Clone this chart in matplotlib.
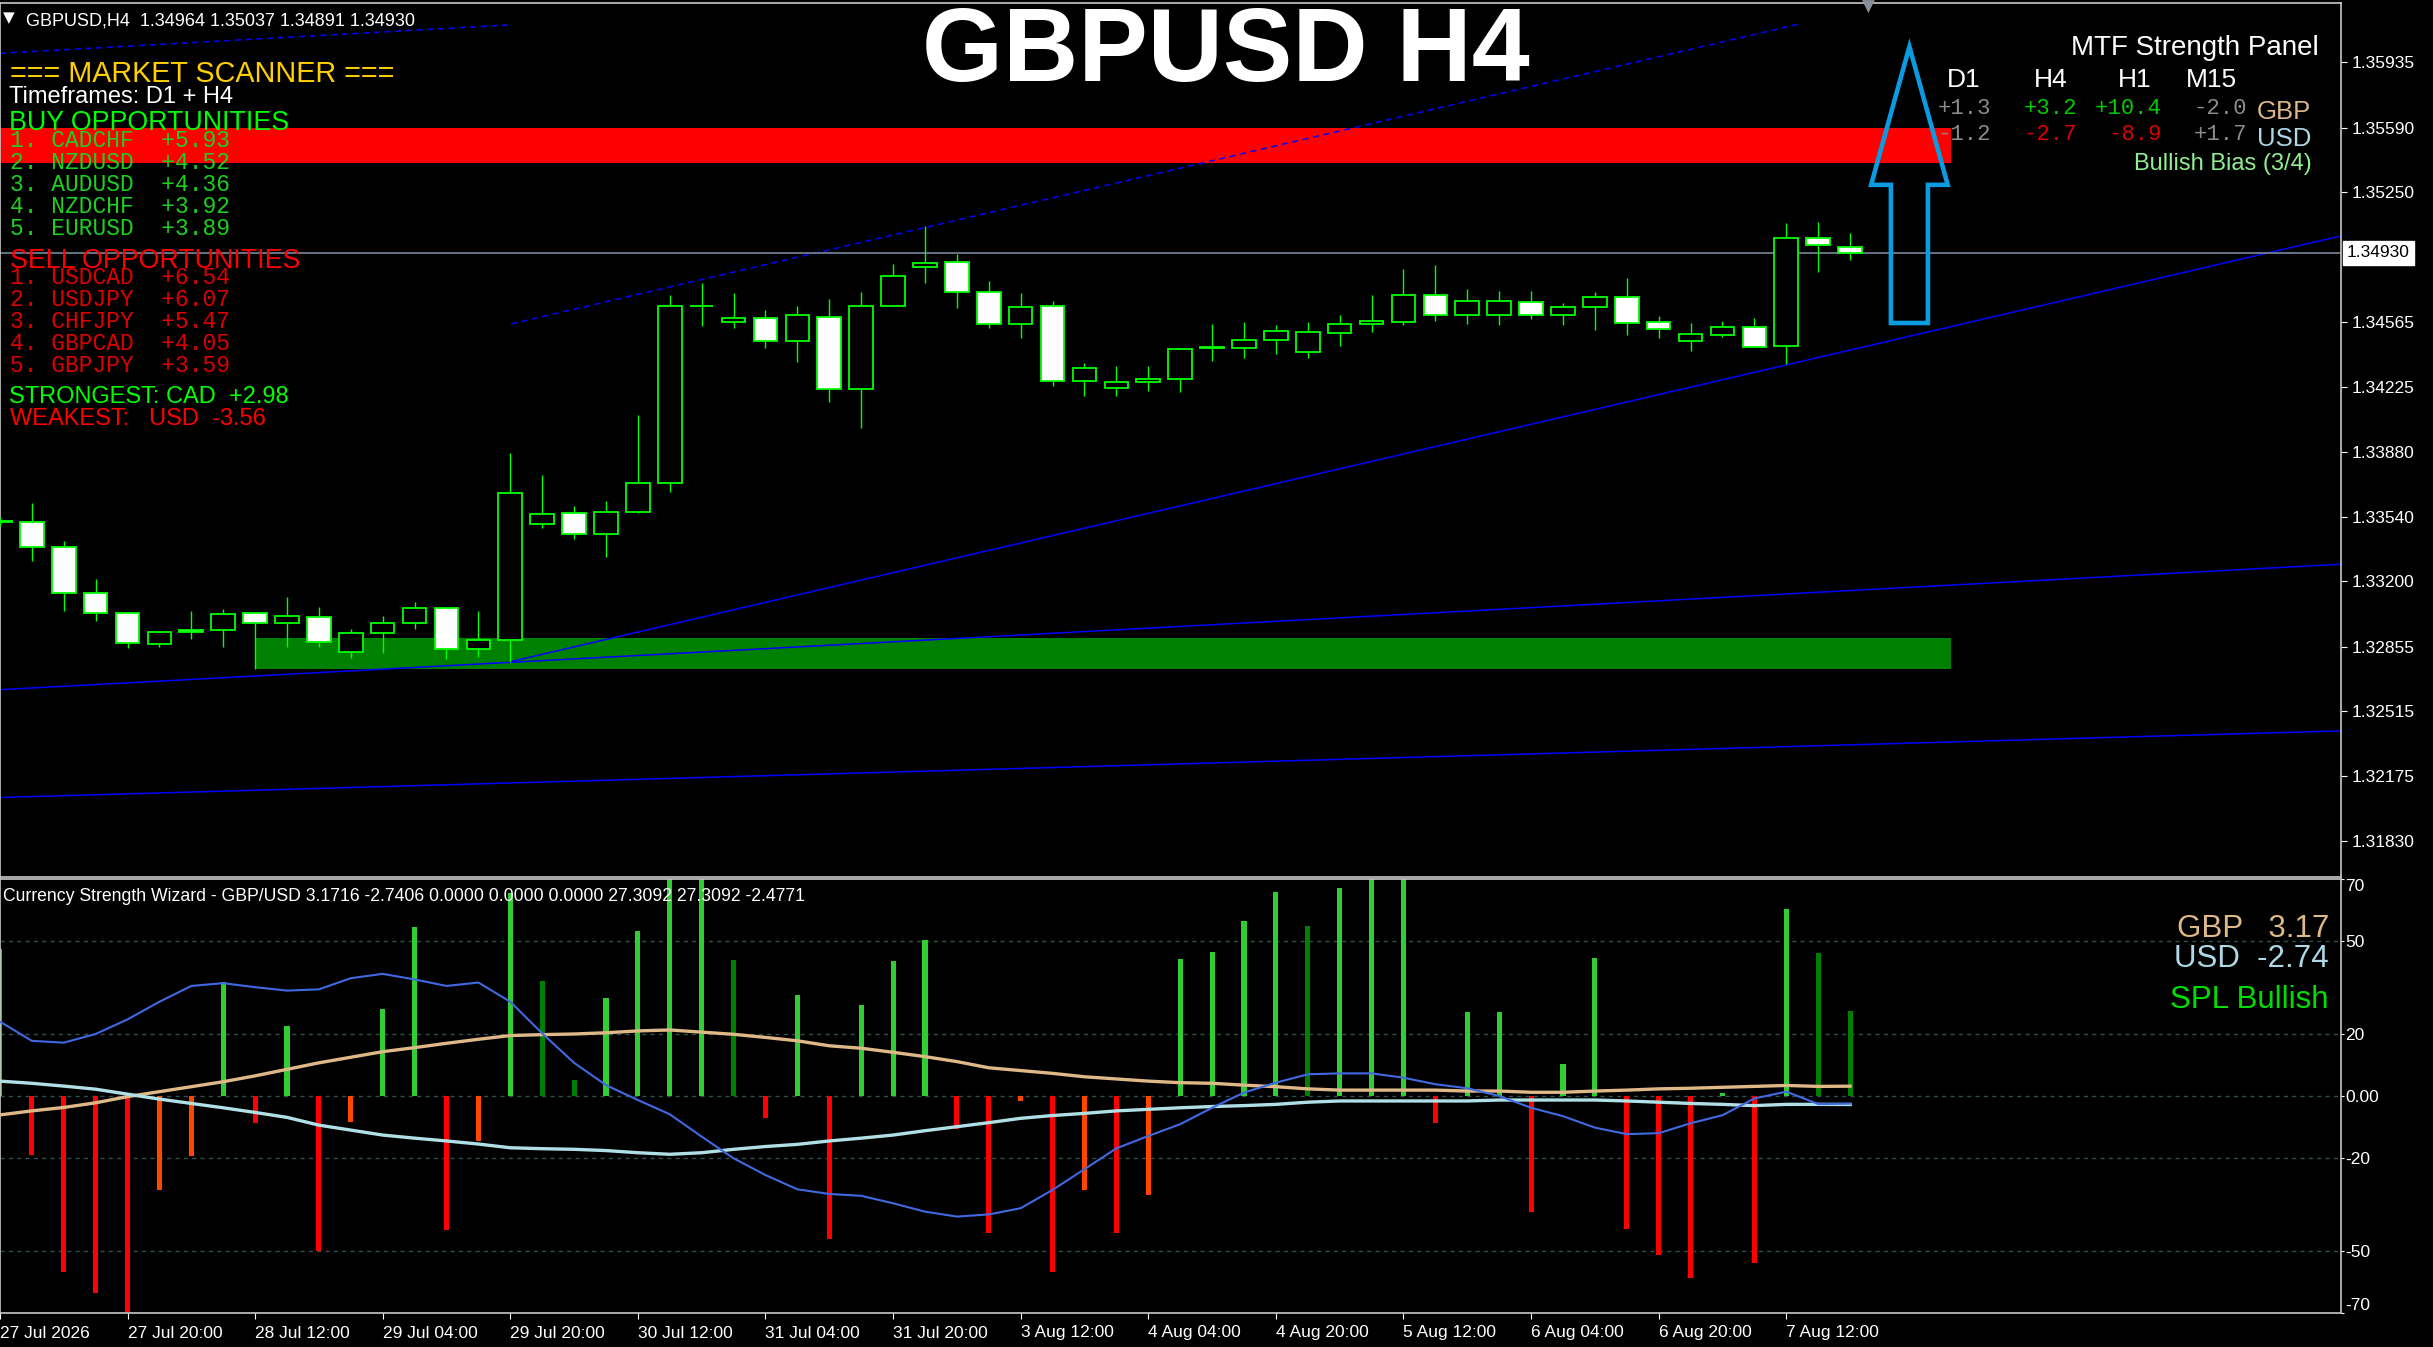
import numpy as np
import matplotlib
matplotlib.use('Agg')
import matplotlib.pyplot as plt
from matplotlib.patches import Rectangle, Polygon
from matplotlib import transforms

# ---------- figure size in pixels ----------
W, H = 2433, 1347

# ---------- GBPUSD H4 candles (bar index 1 = 27 Jul 04:00) ----------
bar_idx = np.arange(1, 60)
opens = [1.33516, 1.33511, 1.33380, 1.33137, 1.33032, 1.32870, 1.32944, 1.32944, 1.33032, 1.32979,
         1.33014, 1.32826, 1.32926, 1.32979, 1.33058, 1.32844, 1.32891, 1.33501, 1.33559, 1.33448,
         1.33564, 1.33717, 1.34650, 1.34565, 1.34586, 1.34467, 1.34595, 1.34212, 1.34649, 1.34855,
         1.34881, 1.34723, 1.34555, 1.34649, 1.34257, 1.34217, 1.34249, 1.34265, 1.34431, 1.34431,
         1.34470, 1.34410, 1.34510, 1.34555, 1.34568, 1.34707, 1.34605, 1.34605, 1.34670, 1.34605,
         1.34647, 1.34697, 1.34565, 1.34468, 1.34500, 1.34539, 1.34439, 1.35008, 1.34964]
highs = [1.33540, 1.33611, 1.33413, 1.33213, 1.33040, 1.32940, 1.33046, 1.33054, 1.33032, 1.33116,
         1.33063, 1.32949, 1.33018, 1.33093, 1.33058, 1.33046, 1.33878, 1.33760, 1.33597, 1.33624,
         1.34077, 1.34709, 1.34771, 1.34721, 1.34630, 1.34651, 1.34686, 1.34726, 1.34872, 1.35070,
         1.34925, 1.34783, 1.34719, 1.34677, 1.34351, 1.34335, 1.34335, 1.34431, 1.34556, 1.34567,
         1.34549, 1.34567, 1.34604, 1.34709, 1.34846, 1.34867, 1.34741, 1.34730, 1.34730, 1.34667,
         1.34725, 1.34798, 1.34598, 1.34561, 1.34572, 1.34588, 1.35088, 1.35094, 1.35037]
lows = [1.33490, 1.33309, 1.33046, 1.32993, 1.32847, 1.32856, 1.32896, 1.32856, 1.32737, 1.32856,
        1.32856, 1.32795, 1.32821, 1.32949, 1.32789, 1.32800, 1.32777, 1.33483, 1.33422, 1.33330,
        1.33559, 1.33673, 1.34547, 1.34537, 1.34428, 1.34357, 1.34147, 1.34007, 1.34649, 1.34774,
        1.34642, 1.34537, 1.34484, 1.34231, 1.34178, 1.34178, 1.34205, 1.34199, 1.34361, 1.34379,
        1.34398, 1.34379, 1.34442, 1.34516, 1.34553, 1.34574, 1.34558, 1.34553, 1.34584, 1.34553,
        1.34526, 1.34500, 1.34484, 1.34415, 1.34489, 1.34433, 1.34347, 1.34832, 1.34891]
closes = [1.33512, 1.33380, 1.33137, 1.33032, 1.32874, 1.32932, 1.32932, 1.33026, 1.32979, 1.33018,
          1.32879, 1.32926, 1.32979, 1.33058, 1.32844, 1.32891, 1.33664, 1.33553, 1.33448, 1.33564,
          1.33717, 1.34649, 1.34648, 1.34586, 1.34467, 1.34602, 1.34212, 1.34649, 1.34809, 1.34879,
          1.34723, 1.34555, 1.34644, 1.34257, 1.34323, 1.34249, 1.34265, 1.34423, 1.34432, 1.34470,
          1.34518, 1.34512, 1.34555, 1.34570, 1.34707, 1.34605, 1.34676, 1.34676, 1.34605, 1.34644,
          1.34697, 1.34563, 1.34531, 1.34502, 1.34539, 1.34433, 1.35008, 1.34971, 1.34930]
last_price = 1.34930

# ---------- axis ticks ----------
price_ticks = [1.35935, 1.35590, 1.35250, 1.34565, 1.34225, 1.33880, 1.33540,
               1.33200, 1.32855, 1.32515, 1.32175, 1.31830]
time_pos = [1.003] + list(range(5, 58, 4))
time_labels = ['27 Jul 2026', '27 Jul 20:00', '28 Jul 12:00', '29 Jul 04:00', '29 Jul 20:00',
               '30 Jul 12:00', '31 Jul 04:00', '31 Jul 20:00', '3 Aug 12:00', '4 Aug 04:00',
               '4 Aug 20:00', '5 Aug 12:00', '6 Aug 04:00', '6 Aug 20:00', '7 Aug 12:00']
ind_ticks = [70, 50, 20, 0, -20, -50, -70]
ind_tick_labels = ['70', '50', '20', '0.00', '-20', '-50', '-70']

# ---------- zones, trend lines, arrow ----------
red_zone = (1.35403, 1.35587)
green_zone = (1.32737, 1.32903)
zone_start_red, zone_start_green, zone_end = -5, 9, 62.16
trend_lines = [  # (x0, p0, x1, p1, dashed)
    (1.003, 1.35982, 17.02, 1.36132, True),
    (17.02, 1.34556, 57.4, 1.36136, True),
    (17.02, 1.32777, 74.39, 1.35020, False),
    (1.003, 1.32629, 74.39, 1.33290, False),
    (1.003, 1.32061, 74.39, 1.32412, False),
]
arrow_x, arrow_top, arrow_neck, arrow_base = 60.86, 1.36017, 1.35289, 1.34561
arrow_head_half, arrow_shaft_half = 1.2, 0.58

# ---------- Currency Strength Wizard ----------
hist_vals = [47.4, -19.0, -56.7, -63.4, -69.6, -30.3, -19.4, 36.8, -8.6, 22.6,
             -50.0, -8.3, 28.1, 54.5, -43.2, -14.5, 65.5, 37.1, 5.2, 31.7,
             53.2, 74.0, 74.0, 43.9, -7.0, 32.6, -46.1, 29.4, 43.5, 50.3,
             -10.7, -44.1, -1.5, -56.7, -30.3, -44.3, -31.9, 44.2, 46.5, 56.5,
             65.8, 54.8, 67.1, 74.0, 74.0, -8.6, 27.1, 27.1, -37.3, 10.3,
             44.5, -42.8, -51.3, -58.6, 0.9, -54.0, 60.3, 46.1, 27.31]
# G lime, g dark green, R red, O orange-red
hist_kind = 'GRRRROOGRGROGGROGggGGGGgRGRGGGRRORORO' + 'GGGGgGGGRGGRGGRRRGRGgg'
spl_line = [24.0, 17.8, 17.2, 20.0, 24.7, 30.4, 35.5, 36.4, 35.1, 34.0, 34.4, 38.0, 39.4, 37.6, 35.5,
            36.6, 30.4, 20.2, 10.7, 3.5, -1.3, -5.9, -13.1, -20.1, -25.5, -30.1, -31.6, -32.2, -34.6,
            -37.3, -38.9, -38.2, -36.2, -30.3, -23.6, -16.9, -12.9, -9.1, -3.8, 1.1, 4.3, 7.0, 7.3,
            7.3, 5.9, 3.8, 2.5, 0.0, -3.8, -6.5, -10.2, -12.3, -12.0, -8.8, -6.2, -0.8, 1.4, -2.6, -2.48]
gbp_line = [-6.1, -4.8, -3.7, -2.2, -0.2, 1.4, 3.0, 4.6, 6.5, 8.6, 10.7, 12.5, 14.3, 15.6, 17.0,
            18.3, 19.5, 19.8, 20.0, 20.4, 21.0, 21.3, 20.6, 19.9, 18.9, 17.8, 16.2, 15.4, 14.1, 12.7,
            11.1, 9.1, 8.2, 7.3, 6.2, 5.5, 4.8, 4.3, 4.1, 3.5, 3.0, 2.3, 1.9, 1.9, 1.9, 1.9, 1.6, 1.6,
            1.2, 1.2, 1.6, 1.9, 2.3, 2.5, 2.8, 3.1, 3.4, 3.1, 3.17]
usd_line = [4.8, 4.1, 3.2, 2.2, 0.6, -1.0, -2.4, -3.8, -5.3, -6.9, -9.4, -11.0, -12.6, -13.6, -14.5,
            -15.5, -16.7, -17.0, -17.2, -17.6, -18.3, -18.8, -18.3, -17.2, -16.3, -15.6, -14.5, -13.6,
            -12.6, -11.2, -9.9, -8.6, -7.2, -6.3, -5.6, -4.8, -4.3, -3.8, -3.4, -3.1, -2.7, -2.0, -1.6,
            -1.6, -1.6, -1.6, -1.6, -1.3, -1.3, -1.3, -1.3, -1.6, -2.0, -2.4, -2.7, -3.1, -2.7, -2.7, -2.74]
csw_values = [3.1716, -2.7406, 0.0, 0.0, 0.0, 27.3092, 27.3092, -2.4771]
gbp_now, usd_now = 3.17, -2.74

# ---------- scanner + MTF panel text ----------
buy_pairs = ['CADCHF', 'NZDUSD', 'AUDUSD', 'NZDCHF', 'EURUSD']
buy_scores = [5.93, 4.52, 4.36, 3.92, 3.89]
sell_pairs = ['USDCAD', 'USDJPY', 'CHFJPY', 'GBPCAD', 'GBPJPY']
sell_scores = [6.54, 6.07, 5.47, 4.05, 3.59]
strongest, strongest_val = 'CAD', 2.98
weakest, weakest_val = 'USD', -3.56
mtf_frames = ['D1', 'H4', 'H1', 'M15']
gbp_mtf = [1.3, 3.2, 10.4, -2.0]
usd_mtf = [-1.2, -2.7, -8.9, 1.7]

plt.rcParams['font.family'] = ['Liberation Sans', 'DejaVu Sans']
MONO = ['Liberation Mono', 'DejaVu Sans Mono']
FRAME = '#C8C8C8'

fig = plt.figure(figsize=(W / 100, H / 100), dpi=100, facecolor='black')
ax = fig.add_axes([0, 1 - 877 / H, 2341 / W, (877 - 3) / H], facecolor='black')
ax2 = fig.add_axes([0, 1 - 1313 / H, 2341 / W, (1313 - 879) / H], facecolor='black', sharex=ax)


def put(x, y, s, **kw):
    # place text by pixel position, y = baseline
    fig.text(x / W, 1 - y / H, s, va='baseline', **kw)


# ---------- main pane ----------
ax.add_patch(Rectangle((zone_start_red, red_zone[0]), zone_end - zone_start_red,
                       red_zone[1] - red_zone[0], color='#FF0000', lw=0, zorder=1))
ax.add_patch(Rectangle((zone_start_green, green_zone[0]), zone_end - zone_start_green,
                       green_zone[1] - green_zone[0], color='#008000', lw=0, zorder=1))

for x0, p0, x1, p1, dashed in trend_lines:
    ax.plot([x0, x1], [p0, p1], color='#0000FF', lw=1.1,
            ls=(0, (4, 3)) if dashed else '-', zorder=2)

ax.axhline(last_price, color='#778899', lw=1.2, zorder=2)

o = np.array(opens); c = np.array(closes)
ax.vlines(bar_idx, lows, highs, color='#00FF00', lw=1.0, zorder=3)
bull = c >= o
ax.bar(bar_idx, np.abs(c - o), bottom=np.minimum(o, c), width=0.74,
       color=np.where(bull, 'black', 'white'), edgecolor='#00FF00', linewidth=1.3, zorder=4)

arrow = [(arrow_x, arrow_top),
         (arrow_x + arrow_head_half, arrow_neck), (arrow_x + arrow_shaft_half, arrow_neck),
         (arrow_x + arrow_shaft_half, arrow_base), (arrow_x - arrow_shaft_half, arrow_base),
         (arrow_x - arrow_shaft_half, arrow_neck), (arrow_x - arrow_head_half, arrow_neck)]
ax.add_patch(Polygon(arrow, closed=True, fill=False, edgecolor='#0A9BE0', lw=3.3,
                     joinstyle='miter', zorder=6))

ax.set_xlim(1.003, 74.39)
ax.set_ylim(1.31642, 1.36247)
ax.yaxis.tick_right()
ax.set_yticks(price_ticks)
ax.set_yticklabels([f'{p:.5f}' for p in price_ticks])
ax.tick_params(axis='y', colors='white', labelcolor='white', length=4, pad=4, labelsize=12.5)
ax.tick_params(axis='x', bottom=False, labelbottom=False)
for s in ax.spines.values():
    s.set_color(FRAME)
    s.set_linewidth(1.2)

blend = transforms.blended_transform_factory(ax.transAxes, ax.transData)
ax.text(2347 / 2341, last_price, '1.34930', transform=blend, va='center', ha='left',
        fontsize=12.5, color='black', clip_on=False, zorder=10,
        bbox=dict(facecolor='white', edgecolor='white', pad=3))

# ---------- indicator pane ----------
kind_color = {'G': '#32CD32', 'g': '#008000', 'R': '#FF0000', 'O': '#FF4500'}
for lvl in [50, 20, 0, -20, -50]:
    ax2.axhline(lvl, color='#2F4F4F', lw=1, ls=(0, (3, 3)), zorder=1)
ax2.bar(bar_idx, hist_vals, width=0.16, color=[kind_color[k] for k in hist_kind], zorder=2)
ax2.plot(bar_idx, gbp_line, color='#DEB887', lw=2.4, zorder=3)
ax2.plot(bar_idx, usd_line, color='#B0E0E6', lw=2.4, zorder=3)
ax2.plot(bar_idx, spl_line, color='#4169E1', lw=1.5, zorder=4)

ax2.set_ylim(-70, 70)
ax2.yaxis.tick_right()
ax2.set_yticks(ind_ticks)
ax2.set_yticklabels(ind_tick_labels)
ax2.tick_params(axis='y', colors='white', length=2, pad=1, labelsize=12.5)
ylabels = ax2.get_yticklabels()
ylabels[0].set_va('top')
ylabels[-1].set_va('bottom')
ax2.set_xticks(time_pos)
ax2.set_xticklabels(time_labels)
ax2.tick_params(axis='x', colors='white', length=4, pad=5, labelsize=12.5)
for lbl in ax2.get_xticklabels():
    lbl.set_horizontalalignment('left')
for s in ax2.spines.values():
    s.set_color(FRAME)
    s.set_linewidth(1.2)

# ---------- texts ----------
put(1226, 81, 'GBPUSD H4', ha='center', color='white', fontsize=75, fontweight='bold')
put(3, 22, '\u25BC', color='white', fontsize=11, family=['DejaVu Sans'])
put(26, 25, 'GBPUSD,H4  ' + ' '.join(f'{v:.5f}' for v in [opens[-1], highs[-1], lows[-1], closes[-1]]),
    color='white', fontsize=13)
put(1862, 12, '\u25BC', color='#8A8F99', fontsize=12, family=['DejaVu Sans'])

put(10, 81.7, '=== MARKET SCANNER ===', color='#FFD000', fontsize=20.7)
put(9, 103, 'Timeframes: D1 + H4', color='white', fontsize=17)
put(9, 130, 'BUY OPPORTUNITIES', color='#00FF00', fontsize=19.3)
for k, (pair, sc) in enumerate(zip(buy_pairs, buy_scores)):
    put(10, 146.7 + 22 * k, f'{k + 1}. {pair}  {sc:+.2f}', color='#1ED01E', fontsize=16.5, family=MONO)
put(10, 268.3, 'SELL OPPORTUNITIES', color='#FF0000', fontsize=19.3)
for k, (pair, sc) in enumerate(zip(sell_pairs, sell_scores)):
    put(10, 284 + 22 * k, f'{k + 1}. {pair}  {sc:+.2f}', color='#DD0000', fontsize=16.5, family=MONO)
put(9, 403.3, f'STRONGEST: {strongest}  {strongest_val:+.2f}', color='#00FF00', fontsize=17)
put(10, 425, f'WEAKEST:   {weakest}  {weakest_val:+.2f}', color='#FF0000', fontsize=17)

# MTF panel
put(2319, 55, 'MTF Strength Panel', ha='right', color='white', fontsize=20)
col_center = [1964, 2051, 2135, 2211]
col_right = [1991, 2077, 2161.5, 2247]
for cx, tf in zip(col_center, mtf_frames):
    put(cx, 87.3, tf, ha='center', color='white', fontsize=19)


def mtf_color(v):
    if v > 2.5:
        return '#00CC00'
    if v < -2.5:
        return '#DD0000'
    return '#8C8C8C'


for rx, g, u in zip(col_right, gbp_mtf, usd_mtf):
    put(rx, 114.3, f'{g:+.1f}', ha='right', color=mtf_color(g), fontsize=16, family=MONO)
    put(rx, 140, f'{u:+.1f}', ha='right', color=mtf_color(u), fontsize=16, family=MONO)
put(2257, 119, 'GBP', color='#DEB887', fontsize=18.5)
put(2257, 145.7, 'USD', color='#ADD8E6', fontsize=18.5)
put(2312, 170, 'Bullish Bias (3/4)', ha='right', color='#90EE90', fontsize=17)

# indicator texts
put(3, 900.7, 'Currency Strength Wizard - GBP/USD ' + ' '.join(f'{v:.4f}' for v in csw_values),
    color='white', fontsize=12.7)
put(2329, 937.3, f'GBP   {gbp_now:.2f}', ha='right', color='#DEB887', fontsize=22.5)
put(2329, 967.3, f'USD  {usd_now:.2f}', ha='right', color='#ADD8E6', fontsize=22.5)
put(2329, 1008.3, 'SPL Bullish', ha='right', color='#00DD00', fontsize=22.5)

fig.savefig('out.png', dpi=100, facecolor='black')
